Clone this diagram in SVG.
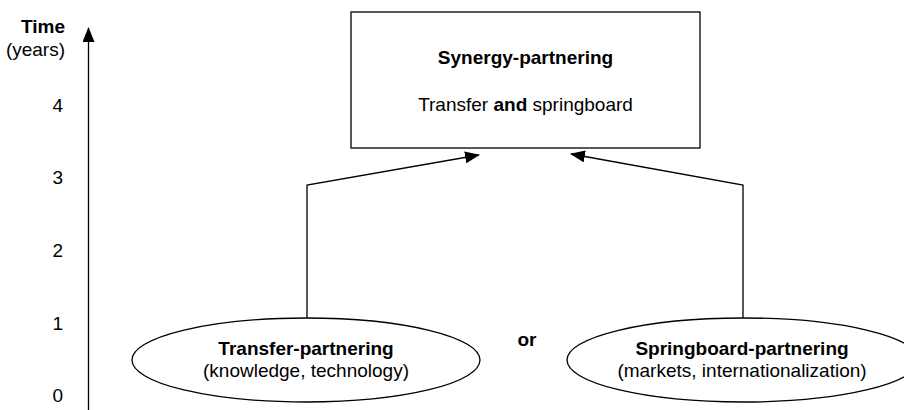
<svg xmlns="http://www.w3.org/2000/svg" width="904" height="410" viewBox="0 0 904 410">
<style>
text{font-family:"Liberation Sans",Arial,Helvetica,sans-serif;font-size:19px;fill:#000}
.b{font-weight:bold}
.shape{fill:#fff;stroke:#000;stroke-width:1.3}
.conn{fill:none;stroke:#000;stroke-width:1.3}
</style>
<defs>
<marker id="ah" viewBox="0 0 15 12" refX="14" refY="6" markerWidth="15" markerHeight="12" markerUnits="userSpaceOnUse" orient="auto">
<path d="M0,0 L15,6 L0,12 Z" fill="#000"/>
</marker>
</defs>
<g id="axis">
<line class="conn" x1="88.5" y1="410" x2="88.5" y2="28" marker-end="url(#ah)"/>
<text class="b" x="65" y="33" text-anchor="end">Time</text>
<text x="65" y="56" text-anchor="end">(years)</text>
<text x="63" y="112" text-anchor="end">4</text>
<text x="63" y="184" text-anchor="end">3</text>
<text x="63" y="257" text-anchor="end">2</text>
<text x="63" y="330" text-anchor="end">1</text>
<text x="63" y="402" text-anchor="end">0</text>
</g>
<g id="connectors">
<polyline class="conn" points="307,318 307,185 479,155" marker-end="url(#ah)"/>
<polyline class="conn" points="743,318 743,185 571,154" marker-end="url(#ah)"/>
</g>
<g id="synergy">
<rect class="shape" x="351" y="12" width="349" height="136"/>
<text class="b" x="525.5" y="64" text-anchor="middle">Synergy-partnering</text>
<text x="525.5" y="111" text-anchor="middle">Transfer <tspan class="b">and</tspan> springboard</text>
</g>
<g id="transfer">
<ellipse class="shape" cx="306" cy="360" rx="174" ry="42"/>
<text class="b" x="306" y="355" text-anchor="middle">Transfer-partnering</text>
<text x="306" y="377" text-anchor="middle">(knowledge, technology)</text>
</g>
<g id="or">
<text class="b" x="527" y="346" text-anchor="middle">or</text>
</g>
<g id="springboard">
<ellipse class="shape" cx="743" cy="360" rx="176" ry="42"/>
<text class="b" x="742" y="355" text-anchor="middle">Springboard-partnering</text>
<text x="742" y="377" text-anchor="middle">(markets, internationalization)</text>
</g>
</svg>
